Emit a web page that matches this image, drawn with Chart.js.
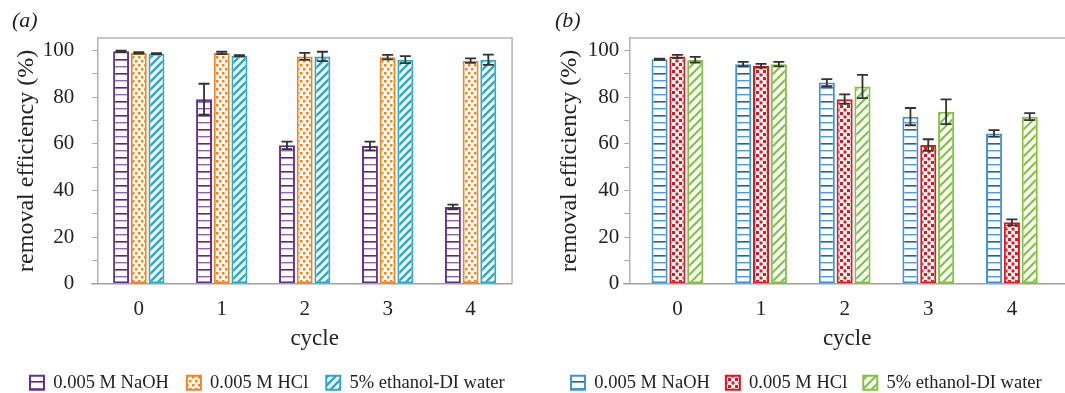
<!DOCTYPE html>
<html>
<head>
<meta charset="utf-8">
<script src="https://cdn.jsdelivr.net/npm/chart.js@4.4.0/dist/chart.umd.min.js"></script>
<style>
  html, body { margin: 0; padding: 0; background: #fff; }
  #wrapA { position: absolute; left: 0; top: 0; width: 532px; height: 393px; }
  #wrapB { position: absolute; left: 532px; top: 0; width: 533px; height: 393px; }
</style>
</head>
<body>
<div id="wrapA"><canvas id="chartA" width="532" height="393"></canvas></div>
<div id="wrapB"><canvas id="chartB" width="533" height="393"></canvas></div>
<script>
// cycles on the x axis, one group of bars per cycle
const cycles = [0, 1, 2, 3, 4];
const seriesNames = ['0.005 M NaOH', '0.005 M HCl', '5% ethanol-DI water'];

// panel (a)
const aNaoh = [99.6, 79.1, 59.3, 59.0, 32.9];
const aNaohErr = [0.3, 6.6, 1.6, 1.9, 1.0];
const aHcl = [98.9, 98.9, 97.4, 97.1, 95.6];
const aHclErr = [0.3, 0.5, 1.5, 1.0, 1.0];
const aEth = [98.6, 97.7, 97.4, 96.0, 96.0];
const aEthErr = [0.2, 0.3, 2.0, 1.5, 2.2];

// panel (b)
const bNaoh = [96.2, 94.1, 86.2, 71.6, 64.4];
const bNaohErr = [0.3, 1.0, 1.5, 3.7, 1.4];
const bHcl = [97.4, 93.4, 79.1, 59.4, 26.3];
const bHclErr = [0.7, 0.8, 2.0, 2.5, 1.3];
const bEth = [96.0, 94.1, 84.5, 73.7, 71.6];
const bEthErr = [1.2, 1.0, 5.0, 5.3, 1.5];

const serif = 'Liberation Serif, Times New Roman, serif';

function tile(w, h, draw) {
  const c = document.createElement('canvas');
  c.width = w; c.height = h;
  const g = c.getContext('2d');
  g.fillStyle = '#fff';
  g.fillRect(0, 0, w, h);
  draw(g, w, h);
  return g.createPattern(c, 'repeat');
}

function hLines(dark, light) {
  return tile(4, 14, (g) => {
    g.fillStyle = dark; g.fillRect(0, 3, 4, 1.6);
    g.fillStyle = light; g.fillRect(0, 10, 4, 1.4);
  });
}

function dots(color, w, h, size) {
  return tile(w, h, (g) => {
    g.fillStyle = color;
    g.fillRect(0, 0, size, size);
    g.fillRect(w / 2, h / 2, size, size);
  });
}

function diag(color, s, lw) {
  return tile(s, s, (g) => {
    g.strokeStyle = color; g.lineWidth = lw;
    g.beginPath();
    g.moveTo(0, s); g.lineTo(s, 0);
    g.moveTo(-s / 2, s / 2); g.lineTo(s / 2, -s / 2);
    g.moveTo(s / 2, s * 1.5); g.lineTo(s * 1.5, s / 2);
    g.stroke();
  });
}

const errorBars = {
  id: 'errorBars',
  afterDatasetsDraw(chart) {
    const ctx = chart.ctx;
    const y = chart.scales.y;
    ctx.save();
    ctx.strokeStyle = '#333';
    ctx.lineWidth = 1.8;
    chart.data.datasets.forEach((ds, i) => {
      const meta = chart.getDatasetMeta(i);
      meta.data.forEach((bar, j) => {
        const v = ds.data[j].y, e = ds.errors[j];
        const top = y.getPixelForValue(v + e);
        const bot = y.getPixelForValue(v - e);
        ctx.beginPath();
        ctx.moveTo(bar.x, top); ctx.lineTo(bar.x, bot);
        ctx.moveTo(bar.x - 5.5, top); ctx.lineTo(bar.x + 5.5, top);
        ctx.moveTo(bar.x - 5.5, bot); ctx.lineTo(bar.x + 5.5, bot);
        ctx.stroke();
      });
    });
    ctx.restore();
  }
};

// plot frame: top line, optional right line, and the x axis line
const frame = {
  id: 'frame',
  afterDraw(chart, args, opts) {
    const a = chart.chartArea, ctx = chart.ctx;
    const right = opts.rightValue != null ? chart.scales.x.getPixelForValue(opts.rightValue) : a.right;
    ctx.save();
    ctx.lineWidth = 1.5;
    ctx.strokeStyle = '#b4b4b4';
    ctx.beginPath();
    ctx.moveTo(a.left, a.top); ctx.lineTo(right, a.top);
    if (opts.rightValue != null) { ctx.lineTo(right, a.bottom); }
    ctx.stroke();
    ctx.strokeStyle = '#a0a0a0';
    ctx.beginPath();
    ctx.moveTo(a.left - 6, a.bottom); ctx.lineTo(right, a.bottom);
    ctx.stroke();
    ctx.restore();
  }
};

function points(vals) {
  return cycles.map((c, i) => ({ x: c, y: vals[i] }));
}

function makeChart(id, label, sets, cfg) {
  return new Chart(document.getElementById(id), {
    type: 'bar',
    data: {
      datasets: sets.map((s, i) => ({
        label: seriesNames[i],
        data: points(s.values),
        errors: s.errors,
        backgroundColor: s.fill,
        borderColor: s.color,
        borderWidth: 2,
        borderSkipped: false,
        categoryPercentage: 0.64,
        barPercentage: 0.9
      }))
    },
    options: {
      responsive: false,
      animation: false,
      layout: { padding: cfg.pad },
      plugins: {
        title: {
          display: true, text: label, align: 'start', color: '#222',
          font: { family: serif, size: 22, style: 'italic', weight: 'normal' },
          padding: { top: 8, bottom: 3.6 }
        },
        legend: {
          position: 'bottom',
          align: 'start',
          labels: {
            boxWidth: 14, boxHeight: 14, padding: cfg.legendPad, color: '#222',
            font: { family: serif, size: 18.5 }
          }
        },
        tooltip: { enabled: false },
        frame: { rightValue: cfg.rightValue }
      },
      scales: {
        x: {
          type: 'linear', min: cfg.xMin, max: cfg.xMax, offset: false,
          afterBuildTicks: (sc) => { sc.ticks = cycles.map(v => ({ value: v })); },
          ticks: { color: '#222', padding: 13, font: { family: serif, size: 21 } },
          grid: { drawOnChartArea: false, drawTicks: false },
          border: { display: false },
          title: {
            display: true, text: 'cycle', color: '#222',
            font: { family: serif, size: 23 }, padding: cfg.xTitlePad
          }
        },
        y: {
          min: 0, max: 105.3,
          ticks: {
            stepSize: 10, includeBounds: false, autoSkip: false, color: '#222',
            padding: cfg.yTickPad, font: { family: serif, size: 21 },
            callback: (v) => (v % 20 === 0 ? v : '')
          },
          grid: { drawOnChartArea: false, tickLength: 5, color: '#a8a8a8' },
          border: { color: '#b4b4b4', width: 1.5 },
          title: {
            display: true, text: 'removal efficiency (%)', color: '#222',
            font: { family: serif, size: 24 }, padding: cfg.yTitlePad
          }
        }
      }
    },
    plugins: [errorBars, frame]
  });
}

makeChart('chartA', '(a)', [
  { values: aNaoh, errors: aNaohErr, color: '#65318f', fill: hLines('#5a2788', '#8d66b3') },
  { values: aHcl, errors: aHclErr, color: '#f5821f', fill: dots('#f5821f', 6, 8, 2.5) },
  { values: aEth, errors: aEthErr, color: '#2aa7c9', fill: diag('#2aa7c9', 8, 2.4) }
], {
  xMin: -0.5, xMax: 4.74, rightValue: 4.5,
  pad: { left: 12, right: 0, top: 0, bottom: -9 },
  legendPad: 18, xTitlePad: { top: -9.5, bottom: 2.5 },
  yTitlePad: { top: 0, bottom: -16 }, yTickPad: 18
});

makeChart('chartB', '(b)', [
  { values: bNaoh, errors: bNaohErr, color: '#3d94dc', fill: hLines('#1f5fae', '#4a9be0') },
  { values: bHcl, errors: bHclErr, color: '#e8121c', fill: dots('#e8121c', 7, 7, 3) },
  { values: bEth, errors: bEthErr, color: '#80c341', fill: diag('#80c341', 9, 2.2) }
], {
  xMin: -0.575, xMax: 4.635, rightValue: null,
  pad: { left: 23, right: 0, top: 0, bottom: -9 },
  legendPad: 16, xTitlePad: { top: -9.5, bottom: 4.5 },
  yTitlePad: { top: 0, bottom: -1 }, yTickPad: 5
});
</script>
</body>
</html>
